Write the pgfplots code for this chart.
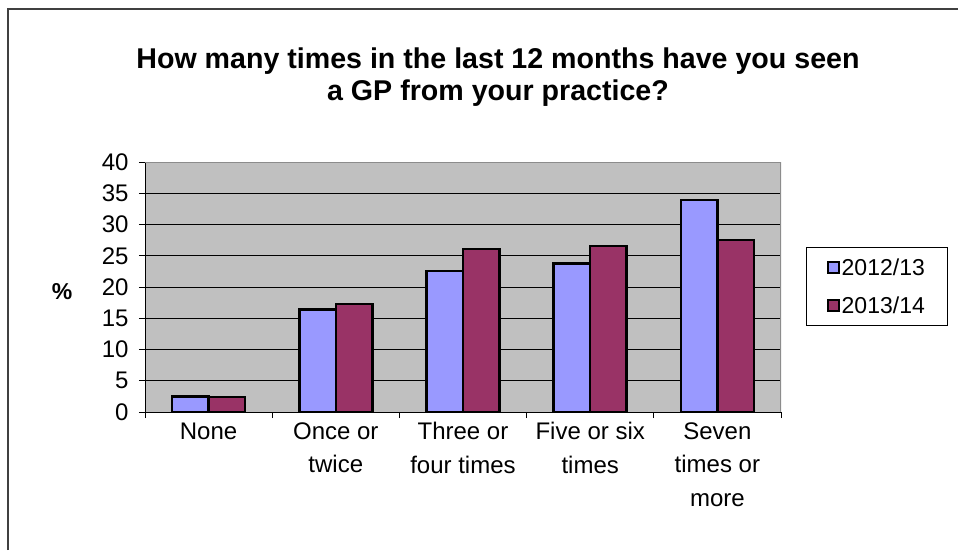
\documentclass[border=0pt]{standalone}
\usepackage{fontspec}
\setmainfont{Liberation Sans}
\usepackage{pgfplots}
\pgfplotsset{compat=1.18}
\definecolor{cblue}{RGB}{153,153,255}
\definecolor{cred}{RGB}{153,51,102}
\definecolor{plotbg}{RGB}{192,192,192}
\begin{document}
\begin{tikzpicture}[x=1pt,y=1pt]
\useasboundingbox (0,0) rectangle (958,550);
\draw[black!75, line width=1.2pt] (8,0) -- (8,541) -- (958,541);
\node[font=\fontsize{28.6}{32}\selectfont\bfseries, align=center] at (498,473) {How many times in the last 12 months have you seen\\a GP from your practice?};
\begin{axis}[
  at={(145pt,138pt)}, anchor=south west,
  width=636pt, height=250pt, scale only axis,
  ymin=0, ymax=40, ytick={0,5,...,40},
  xmin=-0.5, xmax=4.5,
  xtick={0,...,4},
  xticklabels={{None},{Once or\\twice},{Three or\\four times},{Five or six\\times},{Seven\\times or\\more}},
  minor xtick={-0.5,0.5,...,4.5},
  major x tick style={draw=none},
  tick align=outside,
  major tick length=6pt, minor tick length=6pt,
  tick style={black, line width=0.8pt},
  axis lines*=left,
  axis line style={-, black, line width=0.8pt},
  ymajorgrids, grid style={black, line width=0.9pt},
  axis background/.style={fill=plotbg},
  /pgf/number format/assume math mode=true,
  ticklabel style={font=\fontsize{24}{33.5}\selectfont},
  xticklabel style={align=center, yshift=-1pt},
  yticklabel style={xshift=-7pt},
  ylabel={\%},
  every axis y label/.style={at={(axis description cs:-0.1305,0.48)}, anchor=center, rotate=0, font=\fontsize{23}{27}\selectfont\bfseries},
  legend style={at={(axis description cs:1.039,0.66)}, anchor=north west, draw=black, line width=0.8pt,
    font=\fontsize{23}{27}\selectfont, inner xsep=21pt, inner ysep=9pt, row sep=16pt},
  legend cell align=left,
]
\addplot[ybar, fill=cblue, draw=black, line width=2.5pt, bar width=0.287, bar shift=-0.1435,
  legend image code/.code={\draw[fill=cblue, draw=black, line width=1.5pt] (0pt,-5.5pt) rectangle (11pt,5.5pt);}]
  coordinates {(0,2.5) (1,16.4) (2,22.6) (3,23.8) (4,33.9)};
\addlegendentry{2012/13}
\addplot[ybar, fill=cred, draw=black, line width=2.5pt, bar width=0.287, bar shift=0.1435,
  legend image code/.code={\draw[fill=cred, draw=black, line width=1.5pt] (0pt,-5.5pt) rectangle (11pt,5.5pt);}]
  coordinates {(0,2.4) (1,17.3) (2,26.1) (3,26.6) (4,27.5)};
\addlegendentry{2013/14}
\draw[black!45, line width=1.2pt] (rel axis cs:0,1) -- (rel axis cs:1,1) -- (rel axis cs:1,0);
\end{axis}
\end{tikzpicture}
\end{document}
